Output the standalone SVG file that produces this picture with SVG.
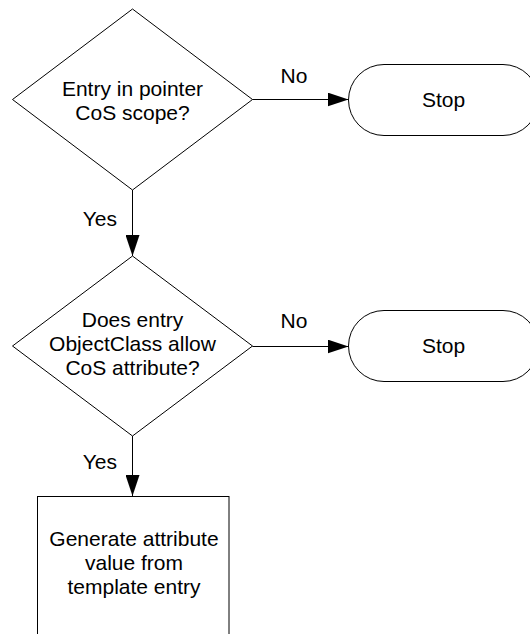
<svg xmlns="http://www.w3.org/2000/svg" width="530" height="634" viewBox="0 0 530 634">
<style>
.shape{fill:#fff;stroke:#000;stroke-width:1}
.t{font-family:"Liberation Sans",Arial,sans-serif;font-size:21px;fill:#000;text-anchor:middle}
.lbl{font-family:"Liberation Sans",Arial,sans-serif;font-size:21px;fill:#000}
.conn{stroke:#000;stroke-width:1;fill:none;marker-end:url(#arr)}
</style>
<defs>
<marker id="arr" markerWidth="21" markerHeight="14" refX="21" refY="7" orient="auto" markerUnits="userSpaceOnUse">
<path d="M0,0 L21,7 L0,14 z" fill="#000"/>
</marker>
</defs>
<rect width="530" height="634" fill="#fff"/>
<g id="decision1">
<polygon class="shape" points="132.5,9 252.5,99.5 132.5,190 12.5,99.5"/>
<text class="t" x="132.5" y="96">Entry in pointer</text>
<text class="t" x="132.5" y="120">CoS scope?</text>
</g>
<g id="stop1">
<rect class="shape" x="348.5" y="64.5" width="190" height="71" rx="35.5"/>
<text class="t" x="443.5" y="107">Stop</text>
</g>
<g id="decision2">
<polygon class="shape" points="132.5,256 252.5,346 132.5,436 12.5,346"/>
<text class="t" x="132.5" y="327">Does entry</text>
<text class="t" x="132.5" y="351">ObjectClass allow</text>
<text class="t" x="132.5" y="375">CoS attribute?</text>
</g>
<g id="stop2">
<rect class="shape" x="348.5" y="310.5" width="190" height="71" rx="35.5"/>
<text class="t" x="443.5" y="353">Stop</text>
</g>
<g id="process">
<rect class="shape" x="37.5" y="496.5" width="191.5" height="160"/>
<text class="t" x="134" y="546">Generate attribute</text>
<text class="t" x="134" y="570">value from</text>
<text class="t" x="134" y="594">template entry</text>
</g>
<g id="connectors">
<line class="conn" x1="252.5" y1="99.5" x2="348.5" y2="99.5"/>
<line class="conn" x1="132.5" y1="190" x2="132.5" y2="256"/>
<line class="conn" x1="252.5" y1="346.5" x2="348.5" y2="346.5"/>
<line class="conn" x1="132.5" y1="436" x2="132.5" y2="496"/>
<text class="lbl" x="294" y="83" text-anchor="middle">No</text>
<text class="lbl" x="117" y="226" text-anchor="end">Yes</text>
<text class="lbl" x="294" y="328" text-anchor="middle">No</text>
<text class="lbl" x="117" y="469" text-anchor="end">Yes</text>
</g>
</svg>
